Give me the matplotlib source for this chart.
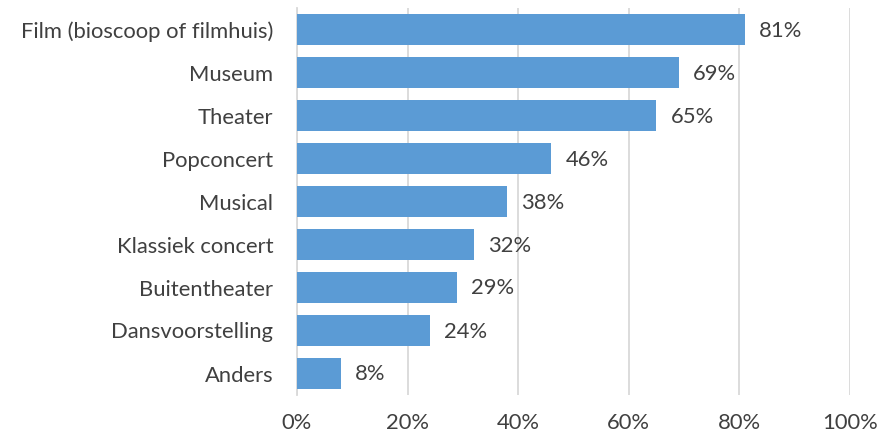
import matplotlib.pyplot as plt

plt.rcParams['font.family'] = ['Lato', 'DejaVu Sans']

categories = ['Film (bioscoop of filmhuis)', 'Museum', 'Theater', 'Popconcert',
              'Musical', 'Klassiek concert', 'Buitentheater', 'Dansvoorstelling', 'Anders']
values = [81, 69, 65, 46, 38, 32, 29, 24, 8]
xticks = [0, 20, 40, 60, 80, 100]

text_color = '#404040'
grid_color = '#d9d9d9'

fig = plt.figure(figsize=(8.93, 4.36), dpi=100)
ax = fig.add_axes([297 / 893, 1 - 395 / 436, 553 / 893, 387 / 436])

pos = list(range(len(categories)))[::-1]
bars = ax.barh(pos, values, height=0.7, color='#5b9bd5', zorder=3)
for b, v in zip(bars, values):
    ax.annotate(f'{v}%', (b.get_width(), b.get_y() + b.get_height() / 2),
                xytext=(14, -1), textcoords='offset pixels',
                va='center', ha='left', fontsize=15.8, color=text_color)

ax.set_xlim(0, 100)
ax.set_ylim(-0.5, len(categories) - 0.5)
ax.set_yticks(pos)
ax.set_yticklabels(categories)
ax.set_xticks(xticks)
ax.set_xticklabels([f'{t}%' for t in xticks])
ax.tick_params(length=0, labelsize=15.8, colors=text_color)
ax.tick_params(axis='y', pad=17)
ax.tick_params(axis='x', pad=13)
ax.grid(axis='x', color=grid_color, linewidth=1.3, zorder=0)
for s in ['top', 'right', 'bottom']:
    ax.spines[s].set_visible(False)
ax.spines['left'].set_color(grid_color)
ax.spines['left'].set_linewidth(1.3)

fig.savefig('out.png', dpi=100)
